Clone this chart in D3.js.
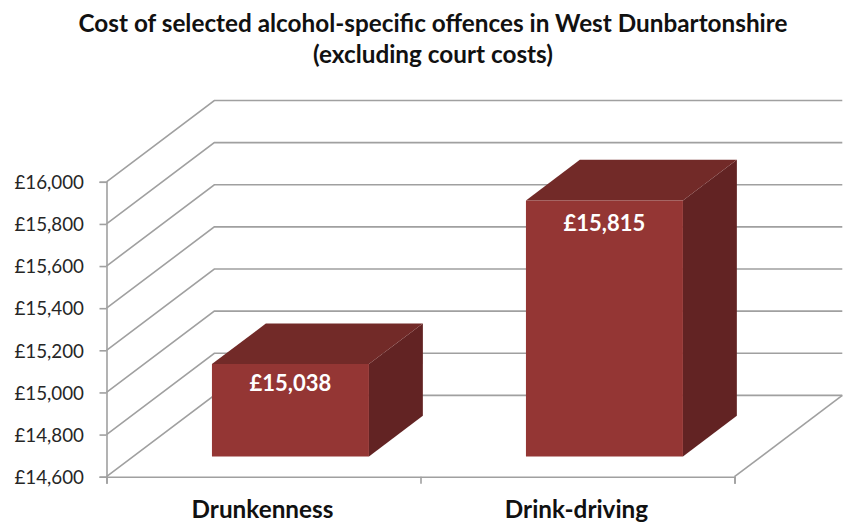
<!DOCTYPE html>
<html>
<head>
<meta charset="utf-8">
<script src="https://cdn.jsdelivr.net/npm/d3@7"></script>
<style>
  html, body { margin: 0; background: #fff; }
  text { font-family: Lato, "Open Sans", sans-serif; }
  .grid { fill: none; stroke: #a0a0a0; stroke-width: 1.6; }
  .axis path, .axis line { stroke: #a0a0a0; stroke-width: 1.6; }
  .axis text { fill: #262626; font-size: 18.8px; }
</style>
</head>
<body>
<div id="chart"></div>
<script>
const titleLines = ["Cost of selected alcohol-specific offences in West Dunbartonshire", "(excluding court costs)"];
const categories = ["Drunkenness", "Drink-driving"];
const values = [15038, 15815];
const valueLabels = ["£15,038", "£15,815"];
const yDomain = [14600, 16000];
const yTicks = [14600, 14800, 15000, 15200, 15400, 15600, 15800, 16000];

const w = 849, h = 525;
const plotLeft = 106.5, plotRight = 734.5, plotBottom = 476.7, plotTop = 181.8;

// how far the back wall sits from the front plane
const depthX = 107.8, depthY = -81.3;

const svg = d3.select("#chart").append("svg")
  .attr("width", w)
  .attr("height", h)
  .style("display", "block");

const yScale = d3.scaleLinear().domain(yDomain).range([plotBottom, plotTop]);
const xBand = d3.scaleBand().domain(categories).range([plotLeft, plotRight])
  .paddingInner(0.5).paddingOuter(0.25);
const xEdges = d3.scaleLinear().domain([0, categories.length]).range([plotLeft, plotRight]);

// 0 = front plane, 1 = back wall
const px = (x, z) => x + z * depthX;
const py = (y, z) => y + z * depthY;
const lineFn = d3.line();

// Walls and floor
svg.append("g").selectAll("path")
  .data(yTicks)
  .enter().append("path")
  .attr("class", "grid")
  .attr("d", (d) => lineFn([
    [plotLeft, yScale(d)],
    [px(plotLeft, 1), py(yScale(d), 1)],
    [px(plotRight, 1), py(yScale(d), 1)]
  ]));

svg.append("path")
  .attr("class", "grid")
  .attr("d", lineFn([
    [plotRight, plotBottom],
    [px(plotRight, 1), py(plotBottom, 1)]
  ]));

// Axes
svg.append("g")
  .attr("class", "axis")
  .attr("transform", `translate(${plotLeft},0)`)
  .call(d3.axisLeft(yScale)
    .tickValues(yTicks)
    .tickSize(7)
    .tickPadding(15.5)
    .tickFormat((d) => "£" + d3.format(",")(d)))
  .call((g) => g.selectAll("text").attr("dy", "0.36em"));

svg.append("g")
  .attr("class", "axis")
  .attr("transform", `translate(0,${plotBottom})`)
  .call(d3.axisBottom(xEdges)
    .tickValues(d3.range(categories.length + 1))
    .tickSize(7)
    .tickFormat(""));

// Bars, each one sits between 1/4 and 3/4 of the floor depth
const bars = svg.append("g").selectAll("g")
  .data(categories)
  .enter().append("g");

const z0 = 0.25, z1 = 0.75;

bars.append("path")
  .attr("fill", "#622323")
  .attr("d", (d, i) => {
    let xr = xBand(d) + xBand.bandwidth();
    return lineFn([
      [px(xr, z0), py(plotBottom, z0)],
      [px(xr, z1), py(plotBottom, z1)],
      [px(xr, z1), py(yScale(values[i]), z1)],
      [px(xr, z0), py(yScale(values[i]), z0)]
    ]) + "Z";
  });

bars.append("path")
  .attr("fill", "#722a28")
  .attr("d", (d, i) => {
    let xl = xBand(d), xr = xl + xBand.bandwidth(), y = yScale(values[i]);
    return lineFn([
      [px(xl, z0), py(y, z0)],
      [px(xl, z1), py(y, z1)],
      [px(xr, z1), py(y, z1)],
      [px(xr, z0), py(y, z0)]
    ]) + "Z";
  });

bars.append("path")
  .attr("fill", "#943634")
  .attr("d", (d, i) => {
    let xl = xBand(d), xr = xl + xBand.bandwidth(), y = yScale(values[i]);
    return lineFn([
      [px(xl, z0), py(y, z0)],
      [px(xr, z0), py(y, z0)],
      [px(xr, z0), py(plotBottom, z0)],
      [px(xl, z0), py(plotBottom, z0)]
    ]) + "Z";
  });

// Data labels, pushed down a little more on taller bars
bars.append("text")
  .attr("x", (d) => px(xBand(d) + xBand.bandwidth() / 2, z0))
  .attr("y", (d, i) => {
    let y = py(yScale(values[i]), z0);
    return y + 25.2 + (py(plotBottom, z0) - y) * 0.0226;
  })
  .attr("text-anchor", "middle")
  .attr("fill", "#fff")
  .style("font-size", "22px")
  .style("font-weight", "700")
  .text((d, i) => valueLabels[i]);

// Category labels
svg.append("g").selectAll("text")
  .data(categories)
  .enter().append("text")
  .attr("x", (d) => xBand(d) + xBand.bandwidth() / 2 - 1)
  .attr("y", 518)
  .attr("text-anchor", "middle")
  .attr("fill", "#111")
  .style("font-size", "24.3px")
  .style("font-weight", "700")
  .text((d) => d);

// Title
svg.append("g").selectAll("text")
  .data(titleLines)
  .enter().append("text")
  .attr("x", 433)
  .attr("y", (d, i) => 32 + i * 31)
  .attr("text-anchor", "middle")
  .attr("fill", "#111")
  .style("font-size", "24.3px")
  .style("font-weight", "700")
  .text((d) => d);
</script>
</body>
</html>
